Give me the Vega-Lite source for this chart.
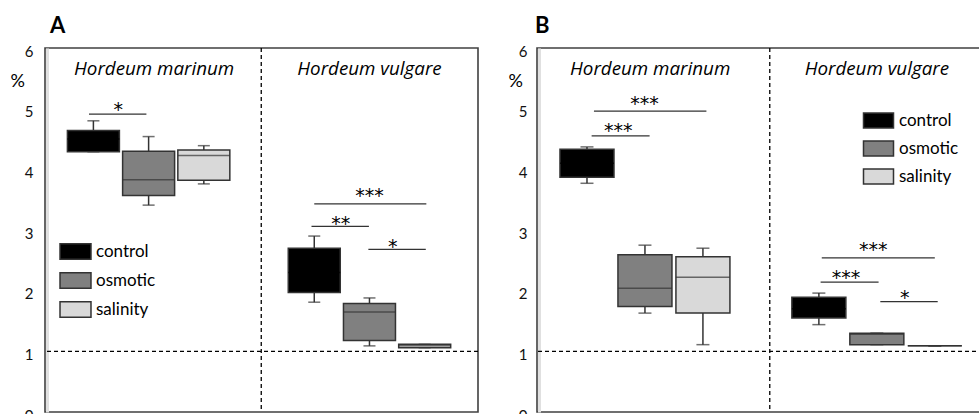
{
  "$schema": "https://vega.github.io/schema/vega-lite/v6.json",
  "background": "white",
  "padding": {"left": 9, "top": 14, "right": 0, "bottom": 0},
  "spacing": 27,
  "config": {
    "font": "Lato",
    "view": {"stroke": "#404040", "strokeWidth": 1.6},
    "axis": {"grid": false, "ticks": false, "tickSize": 0, "labelFontSize": 15, "labelColor": "#111", "labelFont": "Lato"},
    "text": {"font": "Lato", "color": "#000"}
  },
  "datasets": {
    "boxA": [
      {"species": "Hordeum marinum", "treatment": "control", "pos": 1, "min": 4.29, "q1": 4.29, "median": 4.5, "q3": 4.64, "max": 4.80},
      {"species": "Hordeum marinum", "treatment": "osmotic", "pos": 2, "min": 3.41, "q1": 3.57, "median": 3.83, "q3": 4.30, "max": 4.54},
      {"species": "Hordeum marinum", "treatment": "salinity", "pos": 3, "min": 3.76, "q1": 3.82, "median": 4.23, "q3": 4.32, "max": 4.39},
      {"species": "Hordeum vulgare", "treatment": "control", "pos": 5, "min": 1.81, "q1": 1.97, "median": 2.3, "q3": 2.70, "max": 2.90},
      {"species": "Hordeum vulgare", "treatment": "osmotic", "pos": 6, "min": 1.09, "q1": 1.18, "median": 1.65, "q3": 1.79, "max": 1.88},
      {"species": "Hordeum vulgare", "treatment": "salinity", "pos": 7, "min": 1.06, "q1": 1.06, "median": 1.09, "q3": 1.115, "max": 1.115}
    ],
    "boxB": [
      {"species": "Hordeum marinum", "treatment": "control", "pos": 1, "min": 3.77, "q1": 3.87, "median": 4.1, "q3": 4.33, "max": 4.37},
      {"species": "Hordeum marinum", "treatment": "osmotic", "pos": 2, "min": 1.63, "q1": 1.74, "median": 2.04, "q3": 2.59, "max": 2.75},
      {"species": "Hordeum marinum", "treatment": "salinity", "pos": 3, "min": 1.11, "q1": 1.63, "median": 2.22, "q3": 2.56, "max": 2.70},
      {"species": "Hordeum vulgare", "treatment": "control", "pos": 5, "min": 1.44, "q1": 1.55, "median": 1.7, "q3": 1.89, "max": 1.96},
      {"species": "Hordeum vulgare", "treatment": "osmotic", "pos": 6, "min": 1.11, "q1": 1.11, "median": 1.28, "q3": 1.30, "max": 1.30},
      {"species": "Hordeum vulgare", "treatment": "salinity", "pos": 7, "min": 1.09, "q1": 1.09, "median": 1.09, "q3": 1.09, "max": 1.09}
    ],
    "sigA": [
      {"x": 0.92, "x2": 1.96, "y": 4.91, "sx": 1.45, "sy": 5.04, "label": "*"},
      {"x": 5.0, "x2": 7.03, "y": 3.43, "sx": 6.0, "sy": 3.62, "label": "***"},
      {"x": 4.95, "x2": 5.99, "y": 3.06, "sx": 5.48, "sy": 3.16, "label": "**"},
      {"x": 5.98, "x2": 7.02, "y": 2.68, "sx": 6.42, "sy": 2.79, "label": "*"}
    ],
    "sigB": [
      {"x": 1.12, "x2": 3.06, "y": 4.96, "sx": 1.99, "sy": 5.15, "label": "***"},
      {"x": 1.08, "x2": 2.08, "y": 4.55, "sx": 1.54, "sy": 4.69, "label": "***"},
      {"x": 5.05, "x2": 7.0, "y": 2.54, "sx": 5.94, "sy": 2.74, "label": "***"},
      {"x": 5.03, "x2": 6.03, "y": 2.14, "sx": 5.47, "sy": 2.27, "label": "***"},
      {"x": 6.06, "x2": 7.05, "y": 1.82, "sx": 6.48, "sy": 1.94, "label": "*"}
    ],
    "labA": [
      {"label": "Hordeum marinum", "x": 2.1, "y": 5.55},
      {"label": "Hordeum vulgare", "x": 6.0, "y": 5.55}
    ],
    "labB": [
      {"label": "Hordeum marinum", "x": 2.09, "y": 5.55},
      {"label": "Hordeum vulgare", "x": 6.0, "y": 5.55}
    ]
  },
  "hconcat": [
    {
      "width": 433,
      "height": 364,
      "title": {"text": "A", "anchor": "start", "frame": "group", "fontSize": 22, "fontWeight": "bold", "dx": 5, "offset": 6, "color": "#000", "font": "Lato"},
      "layer": [
        {
          "data": {"values": [{}]},
          "mark": {"type": "rule", "strokeDash": [4, 3], "color": "#000", "strokeWidth": 1.3},
          "encoding": {
            "y": {"datum": 1, "type": "quantitative", "scale": {"domain": [0, 6], "nice": false, "zero": false},
              "axis": {"values": [0, 1, 2, 3, 4, 5, 6], "format": "d", "title": "%", "titleAngle": 0, "titleAlign": "left", "titleBaseline": "alphabetic", "titleX": -37, "titleY": 38, "titleFontSize": 18, "titleFontWeight": "normal", "titleColor": "#000", "titleFont": "Lato", "labelPadding": 14, "labelOffset": 3, "domain": true, "domainColor": "#e0e0e0", "domainWidth": 3, "offset": -2}}
          }
        },
        {
          "data": {"values": [{}]},
          "mark": {"type": "rule", "strokeDash": [4, 3], "color": "#000", "strokeWidth": 1.3},
          "encoding": {
            "x": {"datum": 4.04, "type": "quantitative", "scale": {"domain": [0.214, 7.875], "nice": false, "zero": false}, "axis": null}
          }
        },
        {
          "data": {"name": "boxA"},
          "mark": {"type": "rule", "color": "#333", "strokeWidth": 1.5},
          "encoding": {
            "x": {"field": "pos", "type": "quantitative", "axis": null},
            "y": {"field": "min", "type": "quantitative"},
            "y2": {"field": "max"}
          }
        },
        {
          "data": {"name": "boxA"},
          "transform": [{"fold": ["min", "max"], "as": ["stat", "val"]}],
          "mark": {"type": "tick", "orient": "horizontal", "size": 12, "thickness": 1.5, "color": "#333"},
          "encoding": {
            "x": {"field": "pos", "type": "quantitative", "axis": null},
            "y": {"field": "val", "type": "quantitative"}
          }
        },
        {
          "data": {"name": "boxA"},
          "mark": {"type": "bar", "width": 52, "stroke": "#333", "strokeWidth": 1.5},
          "encoding": {
            "x": {"field": "pos", "type": "quantitative", "axis": null},
            "y": {"field": "q1", "type": "quantitative"},
            "y2": {"field": "q3"},
            "fill": {"field": "treatment", "type": "nominal",
              "scale": {"domain": ["control", "osmotic", "salinity"], "range": ["#000000", "#808080", "#d9d9d9"]},
              "legend": {"orient": "none", "legendX": 22, "legendY": 195, "title": null, "padding": 0, "symbolType": "M-2,-1H2V1H-2Z", "symbolSize": 240, "symbolStrokeColor": "#333", "symbolStrokeWidth": 1.5, "symbolOpacity": 1, "labelFontSize": 17, "labelFont": "Lato", "labelColor": "#000", "labelOffset": 12, "rowPadding": 6}}
          }
        },
        {
          "data": {"name": "boxA"},
          "mark": {"type": "tick", "orient": "horizontal", "size": 52, "thickness": 1.5},
          "encoding": {
            "x": {"field": "pos", "type": "quantitative", "axis": null},
            "y": {"field": "median", "type": "quantitative"},
            "color": {"condition": {"test": "datum.treatment === 'control'", "value": "#000000"}, "value": "#333333"}
          }
        },
        {
          "data": {"name": "sigA"},
          "mark": {"type": "rule", "color": "#333", "strokeWidth": 1.3},
          "encoding": {
            "x": {"field": "x", "type": "quantitative", "axis": null},
            "x2": {"field": "x2"},
            "y": {"field": "y", "type": "quantitative"}
          }
        },
        {
          "data": {"name": "sigA"},
          "mark": {"type": "text", "font": "DejaVu Sans", "fontSize": 19, "baseline": "middle", "dy": 4, "color": "#000"},
          "encoding": {
            "x": {"field": "sx", "type": "quantitative", "axis": null},
            "y": {"field": "sy", "type": "quantitative"},
            "text": {"field": "label"}
          }
        },
        {
          "data": {"name": "labA"},
          "mark": {"type": "text", "font": "Open Sans", "fontSize": 18.8, "fontStyle": "italic", "baseline": "alphabetic", "color": "#000"},
          "encoding": {
            "x": {"field": "x", "type": "quantitative", "axis": null},
            "y": {"field": "y", "type": "quantitative"},
            "text": {"field": "label"}
          }
        }
      ]
    },
    {
      "width": 446,
      "height": 364,
      "title": {"text": "B", "anchor": "start", "frame": "group", "fontSize": 22, "fontWeight": "bold", "dx": -2, "offset": 6, "color": "#000", "font": "Lato"},
      "layer": [
        {
          "data": {"values": [{}]},
          "mark": {"type": "rule", "strokeDash": [4, 3], "color": "#000", "strokeWidth": 1.3},
          "encoding": {
            "y": {"datum": 1, "type": "quantitative", "scale": {"domain": [0, 6], "nice": false, "zero": false},
              "axis": {"values": [0, 1, 2, 3, 4, 5, 6], "format": "d", "title": "%", "titleAngle": 0, "titleAlign": "left", "titleBaseline": "alphabetic", "titleX": -31, "titleY": 38, "titleFontSize": 18, "titleFontWeight": "normal", "titleColor": "#000", "titleFont": "Lato", "labelPadding": 12, "labelOffset": 3, "domain": true, "domainColor": "#e0e0e0", "domainWidth": 3, "offset": -2}}
          }
        },
        {
          "data": {"values": [{}]},
          "mark": {"type": "rule", "strokeDash": [4, 3], "color": "#000", "strokeWidth": 1.3},
          "encoding": {
            "x": {"datum": 4.153, "type": "quantitative", "scale": {"domain": [0.224, 7.745], "nice": false, "zero": false}, "axis": null}
          }
        },
        {
          "data": {"name": "boxB"},
          "mark": {"type": "rule", "color": "#333", "strokeWidth": 1.5},
          "encoding": {
            "x": {"field": "pos", "type": "quantitative", "axis": null},
            "y": {"field": "min", "type": "quantitative"},
            "y2": {"field": "max"}
          }
        },
        {
          "data": {"name": "boxB"},
          "transform": [{"fold": ["min", "max"], "as": ["stat", "val"]}],
          "mark": {"type": "tick", "orient": "horizontal", "size": 13, "thickness": 1.5, "color": "#333"},
          "encoding": {
            "x": {"field": "pos", "type": "quantitative", "axis": null},
            "y": {"field": "val", "type": "quantitative"}
          }
        },
        {
          "data": {"name": "boxB"},
          "mark": {"type": "bar", "width": 54, "stroke": "#333", "strokeWidth": 1.5},
          "encoding": {
            "x": {"field": "pos", "type": "quantitative", "axis": null},
            "y": {"field": "q1", "type": "quantitative"},
            "y2": {"field": "q3"},
            "fill": {"field": "treatment", "type": "nominal",
              "scale": {"domain": ["control", "osmotic", "salinity"], "range": ["#000000", "#808080", "#d9d9d9"]},
              "legend": {"orient": "none", "legendX": 333, "legendY": 64, "title": null, "padding": 0, "symbolType": "M-2,-1H2V1H-2Z", "symbolSize": 225, "symbolStrokeColor": "#333", "symbolStrokeWidth": 1.5, "symbolOpacity": 1, "labelFontSize": 17, "labelFont": "Lato", "labelColor": "#000", "labelOffset": 12, "rowPadding": 7}}
          }
        },
        {
          "data": {"name": "boxB"},
          "mark": {"type": "tick", "orient": "horizontal", "size": 54, "thickness": 1.5},
          "encoding": {
            "x": {"field": "pos", "type": "quantitative", "axis": null},
            "y": {"field": "median", "type": "quantitative"},
            "color": {"condition": {"test": "datum.treatment === 'control'", "value": "#000000"}, "value": "#333333"}
          }
        },
        {
          "data": {"name": "sigB"},
          "mark": {"type": "rule", "color": "#333", "strokeWidth": 1.3},
          "encoding": {
            "x": {"field": "x", "type": "quantitative", "axis": null},
            "x2": {"field": "x2"},
            "y": {"field": "y", "type": "quantitative"}
          }
        },
        {
          "data": {"name": "sigB"},
          "mark": {"type": "text", "font": "DejaVu Sans", "fontSize": 19, "baseline": "middle", "dy": 4, "color": "#000"},
          "encoding": {
            "x": {"field": "sx", "type": "quantitative", "axis": null},
            "y": {"field": "sy", "type": "quantitative"},
            "text": {"field": "label"}
          }
        },
        {
          "data": {"name": "labB"},
          "mark": {"type": "text", "font": "Open Sans", "fontSize": 18.8, "fontStyle": "italic", "baseline": "alphabetic", "color": "#000"},
          "encoding": {
            "x": {"field": "x", "type": "quantitative", "axis": null},
            "y": {"field": "y", "type": "quantitative"},
            "text": {"field": "label"}
          }
        }
      ]
    }
  ],
  "resolve": {
    "scale": {"x": "independent", "y": "independent", "fill": "independent"},
    "axis": {"y": "independent"},
    "legend": {"fill": "independent"}
  }
}
